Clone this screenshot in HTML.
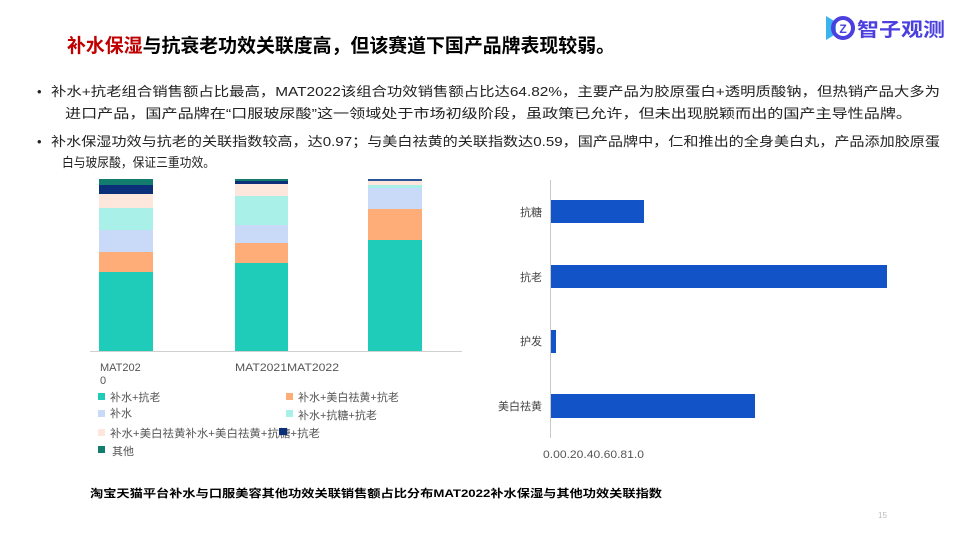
<!DOCTYPE html>
<html><head><meta charset="utf-8"><style>
body{margin:0;background:#fff}
svg{display:block;font-family:"Liberation Sans","Noto Sans CJK SC",sans-serif}
</style></head><body>
<svg width="960" height="540" viewBox="0 0 960 540">
<polygon points="826,16 836,22 836,34 826,40" fill="#3bb4ee"/>
<circle cx="843" cy="28" r="10" fill="none" stroke="#4b3fe0" stroke-width="4"/>
<text x="843" y="33" font-size="12" font-weight="bold" fill="#4b3fe0" text-anchor="middle">Z</text>
<text x="857" y="36" font-size="19" font-weight="bold" fill="#4b3fe0" textLength="88" lengthAdjust="spacingAndGlyphs">智子观测</text>
<text x="67" y="52" font-size="19" font-weight="bold" fill="#000" textLength="548" lengthAdjust="spacingAndGlyphs"><tspan fill="#c00000">补水保湿</tspan>与抗衰老功效关联度高，但该赛道下国产品牌表现较弱。</text>
<g font-size="13" fill="#222">
<text x="37" y="96">•</text>
<text x="51" y="96" textLength="889" lengthAdjust="spacingAndGlyphs">补水+抗老组合销售额占比最高，MAT2022该组合功效销售额占比达64.82%，主要产品为胶原蛋白+透明质酸钠，但热销产品大多为</text>
<text x="65" y="118" textLength="847" lengthAdjust="spacingAndGlyphs">进口产品，国产品牌在“口服玻尿酸”这一领域处于市场初级阶段，虽政策已允许，但未出现脱颖而出的国产主导性品牌。</text>
<text x="37" y="146">•</text>
<text x="51" y="146" textLength="889" lengthAdjust="spacingAndGlyphs">补水保湿功效与抗老的关联指数较高，达0.97；与美白祛黄的关联指数达0.59，国产品牌中，仁和推出的全身美白丸，产品添加胶原蛋</text>
<text x="62" y="167" textLength="153" lengthAdjust="spacingAndGlyphs">白与玻尿酸，保证三重功效。</text>
</g>
<g>
<rect x="99" y="179" width="54" height="6" fill="#127d6c"/>
<rect x="99" y="185" width="54" height="9" fill="#0c2f7a"/>
<rect x="99" y="194" width="54" height="14" fill="#fde7dc"/>
<rect x="99" y="208" width="54" height="22" fill="#a8f0e8"/>
<rect x="99" y="230" width="54" height="22" fill="#c9daf8"/>
<rect x="99" y="252" width="54" height="20" fill="#ffad78"/>
<rect x="99" y="272" width="54" height="79" fill="#1fcbb9"/>
<rect x="235" y="179" width="53" height="2" fill="#127d6c"/>
<rect x="235" y="181" width="53" height="3" fill="#0c2f7a"/>
<rect x="235" y="184" width="53" height="12" fill="#fde7dc"/>
<rect x="235" y="196" width="53" height="29" fill="#a8f0e8"/>
<rect x="235" y="225" width="53" height="18" fill="#c9daf8"/>
<rect x="235" y="243" width="53" height="20" fill="#ffad78"/>
<rect x="235" y="263" width="53" height="88" fill="#1fcbb9"/>
<rect x="368" y="179" width="54" height="2" fill="#2a5596"/>
<rect x="368" y="181" width="54" height="4" fill="#fde7dc"/>
<rect x="368" y="185" width="54" height="3" fill="#a8f0e8"/>
<rect x="368" y="188" width="54" height="21" fill="#c9daf8"/>
<rect x="368" y="209" width="54" height="31" fill="#ffad78"/>
<rect x="368" y="240" width="54" height="111" fill="#1fcbb9"/>
<line x1="90" y1="351.5" x2="462" y2="351.5" stroke="#d0d0d0" stroke-width="1"/>
</g>
<g font-size="11" fill="#555">
<text x="100" y="371">MAT202</text>
<text x="100" y="384">0</text>
<text x="235" y="371" textLength="104" lengthAdjust="spacingAndGlyphs">MAT2021MAT2022</text>
<rect x="98" y="393" width="7" height="7" fill="#1fcbb9"/>
<text x="110" y="401">补水+抗老</text>
<rect x="286" y="393" width="7" height="7" fill="#ffad78"/>
<text x="298" y="401">补水+美白祛黄+抗老</text>
<rect x="98" y="410" width="7" height="7" fill="#c9daf8"/>
<text x="110" y="417">补水</text>
<rect x="286" y="410" width="7" height="7" fill="#a8f0e8"/>
<text x="298" y="419">补水+抗糖+抗老</text>
<rect x="98" y="429" width="7" height="7" fill="#fde7dc"/>
<text x="110" y="437" textLength="210" lengthAdjust="spacingAndGlyphs">补水+美白祛黄补水+美白祛黄+抗糖+抗老</text>
<rect x="279" y="428" width="8" height="7" fill="#0c2f7a"/>
<rect x="98" y="446" width="7" height="7" fill="#127d6c"/>
<text x="112" y="455">其他</text>
</g>
<line x1="550.5" y1="180" x2="550.5" y2="438" stroke="#c8c8c8" stroke-width="1"/>
<rect x="551" y="200" width="93" height="23" fill="#1254c8"/>
<rect x="551" y="265" width="336" height="23" fill="#1254c8"/>
<rect x="551" y="330" width="5" height="23" fill="#1254c8"/>
<rect x="551" y="394" width="204" height="24" fill="#1254c8"/>
<g font-size="11" fill="#444" text-anchor="end">
<text x="542" y="216">抗糖</text>
<text x="542" y="281">抗老</text>
<text x="542" y="345">护发</text>
<text x="542" y="410">美白祛黄</text>
</g>
<text x="543" y="458" font-size="11" fill="#555" textLength="101" lengthAdjust="spacingAndGlyphs">0.00.20.40.60.81.0</text>
<text x="90" y="497" font-size="11" font-weight="bold" fill="#000" textLength="572" lengthAdjust="spacingAndGlyphs">淘宝天猫平台补水与口服美容其他功效关联销售额占比分布MAT2022补水保湿与其他功效关联指数</text>
<text x="878" y="518" font-size="8" fill="#bbb">15</text>
</svg>
</body></html>
